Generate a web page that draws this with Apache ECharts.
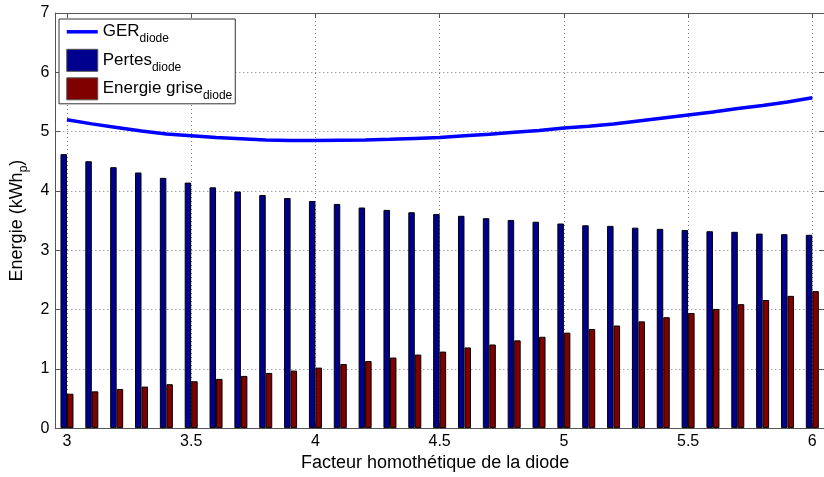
<!DOCTYPE html>
<html>
<head>
<meta charset="utf-8">
<script src="https://cdn.jsdelivr.net/npm/echarts@6/dist/echarts.min.js"></script>
<style>
html,body{margin:0;padding:0;background:#fff;}
#chart{width:824px;height:477px;}
</style>
</head>
<body>
<div id="chart"></div>
<script>
// Data
var xValues = [3.0,3.1,3.2,3.3,3.4,3.5,3.6,3.7,3.8,3.9,4.0,4.1,4.2,4.3,4.4,4.5,4.6,4.7,4.8,4.9,5.0,5.1,5.2,5.3,5.4,5.5,5.6,5.7,5.8,5.9,6.0];
var pertes = [4.62,4.50,4.40,4.31,4.22,4.14,4.06,3.99,3.93,3.88,3.83,3.78,3.72,3.68,3.64,3.61,3.58,3.54,3.51,3.48,3.45,3.42,3.41,3.38,3.36,3.34,3.32,3.31,3.28,3.27,3.26];
var grise = [0.58,0.62,0.66,0.70,0.74,0.79,0.83,0.88,0.93,0.97,1.02,1.08,1.13,1.19,1.24,1.29,1.36,1.41,1.48,1.54,1.61,1.67,1.73,1.80,1.87,1.94,2.01,2.09,2.16,2.23,2.31];
var ger = [5.20,5.13,5.07,5.01,4.96,4.93,4.90,4.88,4.86,4.85,4.85,4.855,4.86,4.87,4.885,4.90,4.93,4.955,4.99,5.02,5.06,5.09,5.13,5.18,5.23,5.28,5.33,5.39,5.44,5.50,5.57];
var seriesNames = ['GER','Pertes','Energie grise'];
var subscript = 'diode';
var xAxisTitle = 'Facteur homothétique de la diode';

function pairs(xs, ys){ return xs.map(function(x,i){ return [x, ys[i]]; }); }

var FONT = '"Liberation Sans", Arial, sans-serif';
var gridLine = {show:true, lineStyle:{color:'#7a7a7a', type:[1,3], width:1}};
var axisCol = '#555';

var chart = echarts.init(document.getElementById('chart'));
var xCommon = {
  type:'value', min:2.953, max:6.047, splitNumber:6,
  axisLine:{show:true, onZero:false, lineStyle:{color:axisCol}},
  axisTick:{show:true, inside:true, length:5, lineStyle:{color:axisCol}}
};
var yCommon = {
  type:'value', min:0, max:7, interval:1,
  axisLine:{show:true, lineStyle:{color:axisCol}},
  axisTick:{show:true, inside:true, length:5, lineStyle:{color:axisCol}}
};
chart.setOption({
  animation:false,
  backgroundColor:'#fff',
  textStyle:{fontFamily:FONT},
  grid:{left:55, right:-2, top:13, bottom:44, containLabel:false},
  xAxis:[
    Object.assign({}, xCommon, {
      position:'bottom',
      name:xAxisTitle, nameLocation:'middle', nameGap:22,
      nameTextStyle:{fontFamily:FONT, fontSize:18, color:'#000', padding:[0,9,0,0]},
      axisLabel:{show:true, margin:5, color:'#000', fontSize:16, fontFamily:FONT, showMinLabel:false, showMaxLabel:false},
      splitLine:gridLine
    }),
    Object.assign({}, xCommon, {
      position:'top', axisLabel:{show:false}, splitLine:{show:false}
    })
  ],
  yAxis:[
    Object.assign({}, yCommon, {
      position:'left',
      name:'{a|Energie (kWh}{s|p}{a|)}', nameLocation:'middle', nameGap:21,
      nameTextStyle:{fontFamily:FONT, fontSize:18, color:'#000',
        rich:{a:{fontFamily:FONT, fontSize:18, color:'#000'}, s:{fontFamily:FONT, fontSize:12, color:'#000', padding:[13,0,0,0]}}},
      axisLabel:{show:true, margin:6, color:'#000', fontSize:16, fontFamily:FONT},
      splitLine:gridLine
    }),
    Object.assign({}, yCommon, {
      position:'right', axisLabel:{show:false}, splitLine:{show:false}
    })
  ],
  legend:{
    show:true, orient:'vertical', left:59, top:19,
    backgroundColor:'#fff', borderColor:'#333', borderWidth:1, borderRadius:0,
    padding:[4,3,2,6], itemGap:4, itemWidth:31, itemHeight:22, itemTextGap:3,
    data:[
      {name:seriesNames[0], itemStyle:{opacity:0}, lineStyle:{width:3.5, color:'#0000ff'}},
      {name:seriesNames[1], icon:'rect', itemStyle:{borderColor:'#555', borderWidth:1}},
      {name:seriesNames[2], icon:'rect', itemStyle:{borderColor:'#555', borderWidth:1}}
    ],
    formatter:function(n){ return '{b|' + n + '}{s|' + subscript + '}'; },
    textStyle:{fontFamily:FONT, fontSize:17, color:'#000',
      rich:{b:{fontFamily:FONT, fontSize:17, color:'#000'}, s:{fontFamily:FONT, fontSize:12, color:'#000', padding:[14,0,0,0]}}}
  },
  series:[
    {
      name:seriesNames[1], type:'bar', xAxisIndex:0, yAxisIndex:0,
      data:pairs(xValues, pertes), barWidth:6.5, barGap:'0%',
      itemStyle:{color:'#00008f', borderColor:'#000', borderWidth:1}
    },
    {
      name:seriesNames[2], type:'bar', xAxisIndex:0, yAxisIndex:0,
      data:pairs(xValues, grise), barWidth:6.5, barGap:'0%',
      itemStyle:{color:'#800000', borderColor:'#000', borderWidth:1}
    },
    {
      name:seriesNames[0], type:'line', xAxisIndex:0, yAxisIndex:0,
      data:pairs(xValues, ger), showSymbol:false, symbol:'none', z:5,
      lineStyle:{color:'#0000ff', width:3.5}, itemStyle:{color:'#0000ff'}
    }
  ]
});
</script>
</body>
</html>
